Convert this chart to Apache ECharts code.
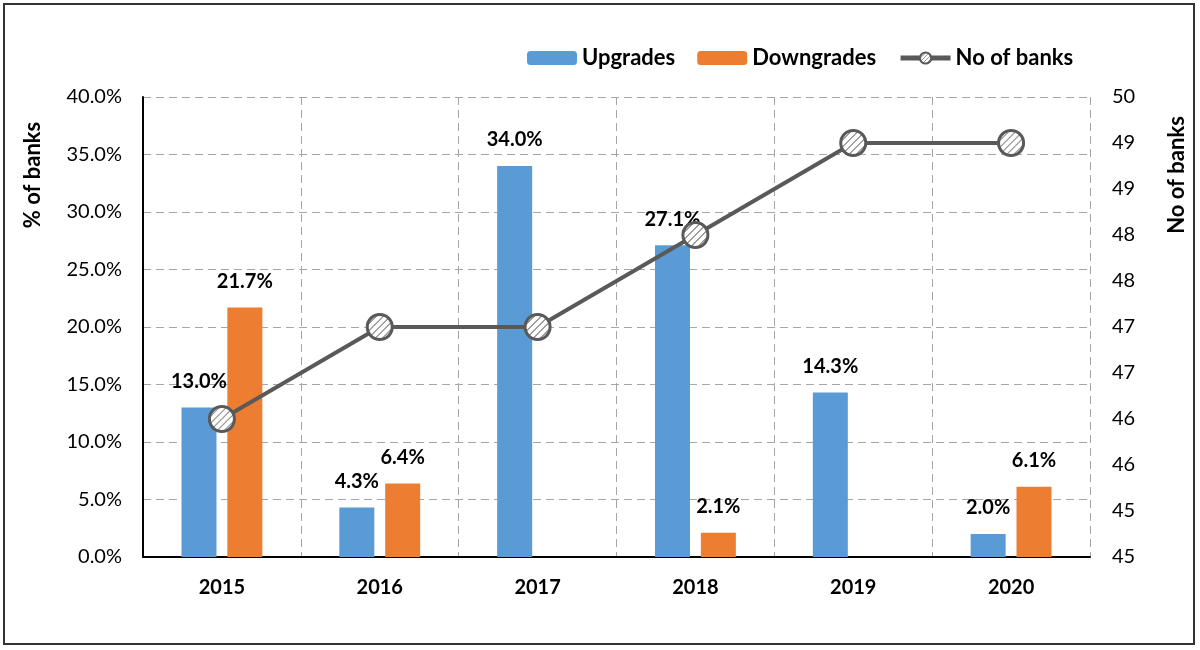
<!DOCTYPE html>
<html>
<head>
<meta charset="utf-8">
<script src="https://cdn.jsdelivr.net/npm/echarts@6/dist/echarts.min.js"></script>
<style>
  html, body { margin: 0; padding: 0; background: #ffffff; }
  #chart { width: 1200px; height: 650px; }
</style>
</head>
<body>
<div id="chart"></div>
<script>
const categories = ['2015', '2016', '2017', '2018', '2019', '2020'];
const upgrades = [13.0, 4.3, 34.0, 27.1, 14.3, 2.0];
const downgrades = [21.7, 6.4, 0, 2.1, 0, 6.1];
const noOfBanks = [46.5, 47.5, 47.5, 48.5, 49.5, 49.5];
const rightTickLabels = ['45', '45', '46', '46', '47', '47', '48', '48', '49', '49', '50'];

const FONT = 'Lato, "DejaVu Sans", sans-serif';
const SYMBOL_SIZE = 25;

// hatched tile (high resolution, scaled down when used)
const T = 32;
const pc = document.createElement('canvas');
pc.width = T; pc.height = T;
const pctx = pc.getContext('2d');
pctx.fillStyle = '#ffffff';
pctx.fillRect(0, 0, T, T);
pctx.strokeStyle = '#9c9c9c';
pctx.lineWidth = 6;
pctx.beginPath();
pctx.moveTo(0, T); pctx.lineTo(T, 0);
pctx.moveTo(-T / 2, T / 2); pctx.lineTo(T / 2, -T / 2);
pctx.moveTo(T / 2, T * 1.5); pctx.lineTo(T * 1.5, T / 2);
pctx.stroke();

// symbols are drawn in a unit space scaled by size/2, so compensate
const tileScreen = 7; // px on screen
const symScale = (tileScreen / T) / (SYMBOL_SIZE / 2);
const markerPattern = { image: pc, repeat: 'repeat', scaleX: symScale, scaleY: symScale };
const legendPattern = { image: pc, repeat: 'repeat', scaleX: 0.12, scaleY: 0.12 };

const chart = echarts.init(document.getElementById('chart'), null, { renderer: 'canvas' });

const labelStyle = {
  show: true,
  position: 'top',
  distance: 16,
  fontFamily: FONT,
  fontWeight: 'bold',
  fontSize: 20,
  color: '#000',
  formatter: p => (p.value === 0 ? '' : p.value.toFixed(1) + '%')
};

chart.setOption({
  animation: false,
  backgroundColor: '#ffffff',
  textStyle: { fontFamily: FONT },
  graphic: [
    {
      type: 'rect',
      shape: { x: 4, y: 4, width: 1190, height: 640 },
      style: { fill: 'none', stroke: '#333333', lineWidth: 2 },
      silent: true
    },
    {
      type: 'text',
      x: 33, y: 175,
      rotation: Math.PI / 2,
      style: {
        text: '% of banks', fontFamily: FONT, fontWeight: 'bold', fontSize: 22,
        fill: '#000', align: 'center', verticalAlign: 'middle'
      }
    },
    {
      type: 'text',
      x: 1177, y: 175,
      rotation: Math.PI / 2,
      style: {
        text: 'No of banks', fontFamily: FONT, fontWeight: 'bold', fontSize: 22,
        fill: '#000', align: 'center', verticalAlign: 'middle'
      }
    }
  ],
  legend: {
    left: 522,
    top: 42,
    itemWidth: 50,
    itemHeight: 14,
    itemGap: 22,
    selectedMode: false,
    textStyle: { fontFamily: FONT, fontWeight: 'bold', fontSize: 22, color: '#000' },
    data: [
      'Upgrades',
      'Downgrades',
      {
        name: 'No of banks',
        lineStyle: { width: 5, color: '#595959' },
        itemStyle: { color: legendPattern, borderColor: '#595959', borderWidth: 2 }
      }
    ]
  },
  grid: { left: 143, right: 110, top: 97, bottom: 93, containLabel: false },
  xAxis: {
    type: 'category',
    data: categories,
    axisLine: { show: true, lineStyle: { color: '#000', width: 2 } },
    axisTick: { show: false },
    axisLabel: { fontFamily: FONT, fontWeight: 'bold', fontSize: 20, color: '#000', margin: 21 },
    splitLine: { show: true, lineStyle: { color: '#a6a6a6', type: [8, 5], width: 1 } }
  },
  yAxis: [
    {
      type: 'value',
      min: 0, max: 40, interval: 5,
      axisLine: { show: true, lineStyle: { color: '#000', width: 2 } },
      axisTick: { show: false },
      axisLabel: {
        fontFamily: FONT, fontSize: 20, color: '#000', margin: 21,
        formatter: v => v.toFixed(1) + '%'
      },
      splitLine: { show: true, lineStyle: { color: '#a6a6a6', type: [8, 5], width: 1 } }
    },
    {
      type: 'value',
      min: 45, max: 50, interval: 0.5,
      position: 'right',
      axisLine: { show: false },
      axisTick: { show: false },
      axisLabel: {
        fontFamily: FONT, fontSize: 20, color: '#000', margin: 22,
        formatter: (v, i) => rightTickLabels[Math.round((v - 45) / 0.5)]
      },
      splitLine: { show: false }
    }
  ],
  series: [
    {
      name: 'Upgrades',
      type: 'bar',
      data: upgrades,
      barWidth: 35,
      barGap: '31%',
      itemStyle: { color: '#5b9bd5' },
      label: labelStyle,
      z: 2
    },
    {
      name: 'Downgrades',
      type: 'bar',
      data: downgrades,
      barWidth: 35,
      barGap: '31%',
      itemStyle: { color: '#ed7d31' },
      label: labelStyle,
      z: 2
    },
    {
      name: 'No of banks',
      type: 'line',
      yAxisIndex: 1,
      data: noOfBanks,
      symbol: 'circle',
      symbolSize: SYMBOL_SIZE,
      lineStyle: { color: '#595959', width: 4 },
      itemStyle: {
        color: markerPattern,
        borderColor: '#595959',
        borderWidth: 3
      },
      z: 5
    }
  ]
});
</script>
</body>
</html>
